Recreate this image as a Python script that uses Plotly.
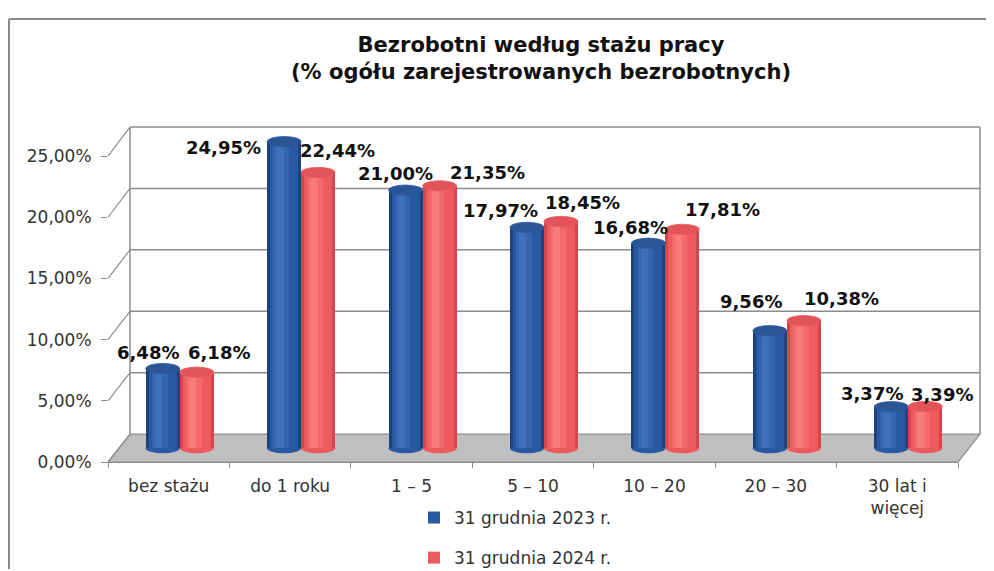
import plotly.graph_objects as go

# ---------------- data ----------------
categories = ["bez stażu", "do 1 roku", "1 – 5", "5 – 10", "10 – 20", "20 – 30", "30 lat i<br>więcej"]
series_2023 = [6.48, 24.95, 21.00, 17.97, 16.68, 9.56, 3.37]
series_2024 = [6.18, 22.44, 21.35, 18.45, 17.81, 10.38, 3.39]
series_names = ["31 grudnia 2023 r.", "31 grudnia 2024 r."]
tick_values = [0, 5, 10, 15, 20, 25]
tick_labels = ["0,00%", "5,00%", "10,00%", "15,00%", "20,00%", "25,00%"]
title_lines = ["Bezrobotni według stażu pracy", "(% ogółu zarejestrowanych bezrobotnych)"]

# ---------------- style ----------------
OFF_X, OFF_Y = 8, 8          # page body margin
W, H = 986, 571
SY_A, SY_S = 9.3, 0.9646     # observed vertical mapping page -> picture
FONT = "DejaVu Sans"
# label offsets (px) relative to category centre / bar top
label_dx_2023 = [-32, -78, -27, -44, -35, -36, -36]
label_dy_2023 = [15, -6, 16, 16, 15, 28, 13]
label_dx_2024 = [39, 36, 65, 38, 57, 55, 34]
label_dy_2024 = [19, 21, 13, 18, 19, 21, 12]

BLUE = dict(edge="#1C427F", main="#2A59A3", light="#3465B0", lighter="#3F70BA", cap="#2B5696")
RED = dict(edge="#D5454A", main="#EE5B5F", light="#F46A6C", lighter="#F87B7B", cap="#E0545A")

BAR_W = 0.28
CAP = 0.42  # half height of the ellipse caps (y units)


def px(x):
    return (x - OFF_X) / W


def py(y):
    fig_y = (y - SY_A) / SY_S - OFF_Y
    return 1 - fig_y / H


# planes (picture-pixel geometry of the pseudo-3D box)
FX0, FX1, FY0, FY25 = 108, 958, 461, 155   # front plane
BX0, BX1, BY0, BY25 = 130, 980, 433, 126   # back wall
MX0, MX1, MY0, MY25 = 119, 969, 447, 140   # middle plane (bars)
Y_LO, Y_HI = -0.7, 26.2


def mid_y(v):
    return MY0 - (MY0 - MY25) * v / 25.0


fig = go.Figure()

idx = list(range(len(categories)))


def add_cylinder(values, colors, offset, name, legend):
    layers = [
        (colors["edge"], 0.0, BAR_W),
        (colors["main"], 0.025, BAR_W - 0.05),
        (colors["light"], 0.05, 0.13),
        (colors["lighter"], 0.075, 0.06),
    ]
    for k, (col, off, w) in enumerate(layers):
        fig.add_trace(go.Bar(
            x=categories, y=values, name=name,
            offset=offset + off, width=w,
            marker=dict(color=col, line=dict(width=0)),
            showlegend=(legend and k == 1),
            legendgroup=name,
            hoverinfo="skip", xaxis="x", yaxis="y",
        ))


add_cylinder(series_2023, BLUE, -BAR_W, series_names[0], True)
add_cylinder(series_2024, RED, 0.0, series_names[1], True)

# invisible trace to carry the front category axis
fig.add_trace(go.Scatter(x=categories, y=[0] * len(categories), mode="markers",
                         marker=dict(opacity=0), showlegend=False, hoverinfo="skip",
                         xaxis="x2", yaxis="y2"))

GRID = "#8C8C8C"
shapes = []
# ---- floor ----
shapes.append(dict(type="path", xref="paper", yref="paper", layer="below",
                   path=f"M {px(FX0)},{py(FY0)} L {px(FX1)},{py(FY0)} L {px(BX1)},{py(BY0)} L {px(BX0)},{py(BY0)} Z",
                   fillcolor="#BFBFBF", line=dict(color=GRID, width=1.2)))
# ---- back wall grid + side diagonals ----
for t in tick_values:
    yb = BY0 - (BY0 - BY25) * t / 25.0
    yf = FY0 - (FY0 - FY25) * t / 25.0
    if t > 0:
        shapes.append(dict(type="line", xref="paper", yref="paper", layer="below",
                           x0=px(BX0), x1=px(BX1), y0=py(yb), y1=py(yb),
                           line=dict(color=GRID, width=1.5)))
    shapes.append(dict(type="line", xref="paper", yref="paper", layer="below",
                       x0=px(FX0), x1=px(BX0), y0=py(yf), y1=py(yb),
                       line=dict(color=GRID, width=1.2)))
# wall edges
shapes.append(dict(type="line", xref="paper", yref="paper", layer="below",
                   x0=px(BX0), x1=px(BX0), y0=py(BY0), y1=py(BY25),
                   line=dict(color=GRID, width=1.5)))
shapes.append(dict(type="line", xref="paper", yref="paper", layer="below",
                   x0=px(BX1), x1=px(BX1), y0=py(BY0), y1=py(BY25),
                   line=dict(color=GRID, width=1.5)))
# ---- chart frame ----
shapes.append(dict(type="line", xref="paper", yref="paper", x0=px(9), x1=1, y0=1 - 1.0 / H, y1=1 - 1.0 / H,
                   line=dict(color="#8A8A8A", width=2)))
shapes.append(dict(type="line", xref="paper", yref="paper", x0=px(9), x1=px(9), y0=1 - 1.0 / H, y1=0,
                   line=dict(color="#8A8A8A", width=2)))

# ---- cylinder caps ----
for values, colors, off in ((series_2023, BLUE, -BAR_W), (series_2024, RED, 0.0)):
    for i, v in zip(idx, values):
        shapes.append(dict(type="circle", xref="x", yref="y", layer="below",
                           x0=i + off, x1=i + off + BAR_W, y0=-CAP, y1=CAP,
                           fillcolor=colors["main"], line=dict(width=0)))
        shapes.append(dict(type="circle", xref="x", yref="y",
                           x0=i + off, x1=i + off + BAR_W, y0=v - CAP, y1=v + CAP,
                           fillcolor=colors["cap"], line=dict(color=colors["main"], width=0.8)))

# ---- data labels ----
annotations = []
for values, dxs, dys in ((series_2023, label_dx_2023, label_dy_2023),
                         (series_2024, label_dx_2024, label_dy_2024)):
    for i, v, dx, dy in zip(idx, values, dxs, dys):
        annotations.append(dict(x=i, y=v, xref="x", yref="y", showarrow=False,
                                text=f"{v:.2f}".replace(".", ",") + "%",
                                xshift=dx, yshift=dy / SY_S,
                                font=dict(family=FONT, size=18, color="#111111", weight="bold")))

fig.update_layout(
    width=W, height=H,
    margin=dict(l=0, r=0, t=0, b=0),
    paper_bgcolor="white", plot_bgcolor="rgba(0,0,0,0)",
    barmode="overlay", bargap=0,
    title=dict(text="<b>" + title_lines[0] + "<br>" + title_lines[1] + "</b>",
               x=(541 - OFF_X) / W, xanchor="center", y=py(59.5), yanchor="top",
               font=dict(family=FONT, size=21, color="#111111")),
    xaxis=dict(domain=[px(MX0), px(MX1)], range=[-0.5, 6.5], visible=False,
               type="category", categoryarray=categories, fixedrange=True),
    yaxis=dict(domain=[py(mid_y(Y_LO)), py(mid_y(Y_HI))],
               range=[Y_LO, Y_HI], visible=False, fixedrange=True),
    xaxis2=dict(domain=[px(FX0), px(FX1)], range=[-0.5, 6.5], anchor="y2",
                type="category", categoryarray=categories,
                tickson="boundaries", ticks="outside", ticklen=5, tickcolor=GRID,
                ticklabelstandoff=8,
                showline=True, linecolor=GRID, linewidth=1.2, showgrid=False,
                tickfont=dict(family=FONT, size=17, color="#333333")),
    yaxis2=dict(domain=[py(FY0), py(FY25)], range=[0, 25], anchor="x2",
                tickvals=tick_values, ticktext=tick_labels,
                ticks="outside", ticklen=6, tickcolor=GRID, ticklabelstandoff=6,
                showline=False, showgrid=False, zeroline=False,
                tickfont=dict(family=FONT, size=17, color="#333333")),
    legend=dict(x=px(414), y=py(498.8), xanchor="left", yanchor="top",
                orientation="v", tracegroupgap=15, bgcolor="rgba(0,0,0,0)",
                font=dict(family=FONT, size=17, color="#333333")),
    shapes=shapes, annotations=annotations,
    showlegend=True,
)

fig.write_html("out.html")
